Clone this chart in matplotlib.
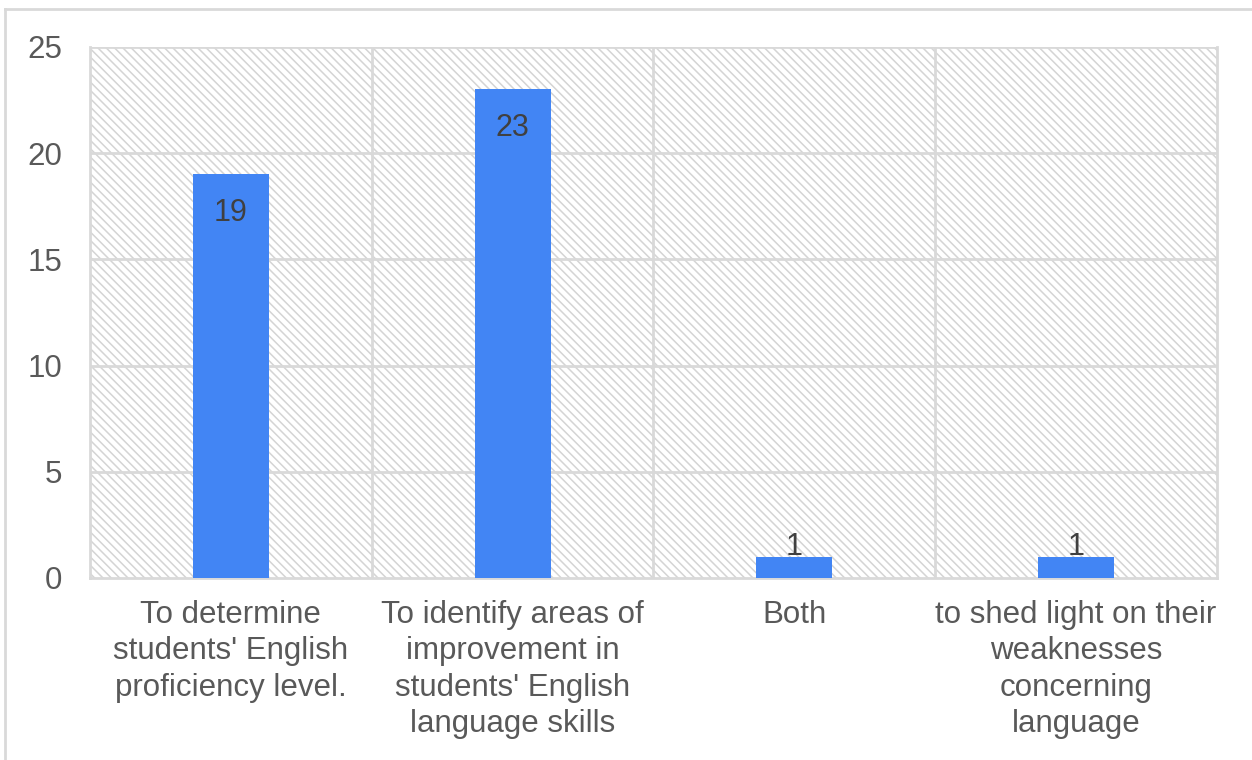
import matplotlib.pyplot as plt
from matplotlib.patches import Rectangle
from matplotlib.lines import Line2D

plt.rcParams['font.family'] = ['Liberation Sans', 'DejaVu Sans']
plt.rcParams['hatch.linewidth'] = 1.1

categories = [
    "To determine\nstudents' English\nproficiency level.",
    "To identify areas of\nimprovement in\nstudents' English\nlanguage skills",
    "Both",
    "to shed light on their\nweaknesses\nconcerning\nlanguage",
]
counts = [19, 23, 1, 1]
y_ticks = [0, 5, 10, 15, 20, 25]

BAR = '#4285f4'
GRID = '#d9d9d9'
TEXT = '#595959'

fig = plt.figure(figsize=(12.52, 7.60), dpi=100)
ax = fig.add_axes([0.0719, 0.2395, 0.9001, 0.6987])

# hatched plot background
ax.add_patch(Rectangle((0, 0), 1, 1, transform=ax.transAxes, facecolor='white',
                       edgecolor='#d4d4d4', linewidth=0, hatch='\\\\\\\\', zorder=0))

x = range(len(categories))
ax.bar(x, counts, width=0.27, color=BAR, zorder=3)

for i, v in enumerate(counts):
    if v >= 5:
        ax.annotate(str(v), (i, v), xytext=(0, -17), textcoords='offset points',
                    ha='center', va='top', fontsize=22, color='#404040', zorder=4)
    else:
        ax.annotate(str(v), (i, v), xytext=(0, -4), textcoords='offset points',
                    ha='center', va='bottom', fontsize=22, color='#404040', zorder=4)

ax.set_xlim(-0.5, len(categories) - 0.5)
ax.set_ylim(0, 25)
ax.set_yticks(y_ticks)
ax.set_xticks(list(x))
ax.set_xticklabels(categories, fontsize=22.5, color=TEXT, linespacing=1.27)
ax.tick_params(axis='y', length=0, pad=20, labelsize=22.5, labelcolor=TEXT)
ax.tick_params(axis='x', length=0, pad=16)

for y in y_ticks[1:]:
    ax.axhline(y, color=GRID, linewidth=2, zorder=1)
for b in [0.5, 1.5, 2.5]:
    ax.axvline(b, color=GRID, linewidth=2, zorder=1)

for side in ['left', 'right', 'bottom']:
    ax.spines[side].set_color(GRID)
    ax.spines[side].set_linewidth(2)
ax.spines['top'].set_visible(False)

# outer chart frame
fig.add_artist(Line2D([5 / 1252, 5 / 1252], [0, 1 - 9 / 760], color='#d9d9d9', linewidth=2))
fig.add_artist(Line2D([5 / 1252, 1], [1 - 9 / 760, 1 - 9 / 760], color='#d9d9d9', linewidth=2))

fig.savefig('out.png', dpi=100)
